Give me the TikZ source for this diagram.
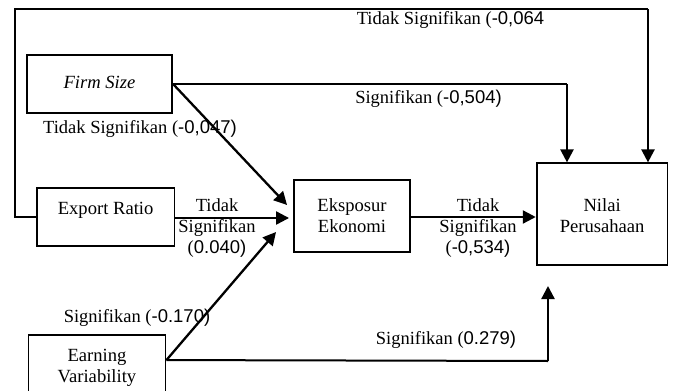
\documentclass[tikz,border=0pt]{standalone}
\usepackage{fontspec}
\setmainfont{Liberation Serif}
\newfontfamily\numf{Liberation Sans}
\usetikzlibrary{arrows.meta,calc}
\begin{document}
\begin{tikzpicture}[x=1pt,y=-1pt,
  box/.style={draw, line width=1.9pt, rectangle, inner sep=0pt, align=center, font=\fontsize{18.6}{21}\selectfont},
  lbl/.style={inner sep=0pt, align=center, font=\fontsize{18.5}{21}\selectfont},
  conn/.style={line width=2pt},
  arr/.style={line width=2.3pt, -{Triangle[length=13pt,width=13pt]}},
]
\useasboundingbox (0,0) rectangle (673,391);
\clip (0,0) rectangle (673,391);
% boxes
\node[box, minimum width=145.6pt, minimum height=58.3pt] (FS) at (99.5,84.2) {\raisebox{2pt}[\height][\depth]{\textit{Firm Size}}};
\node[box, minimum width=137.8pt, minimum height=58.5pt] (EX) at (105.6,216.8) {\raisebox{6pt}[\height][\depth]{Export Ratio}};
\node[box, minimum width=116pt, minimum height=72.5pt] (EK) at (352,215.8) {Eksposur\\Ekonomi};
\node[box, minimum width=130.8pt, minimum height=101.7pt] (NP) at (602.1,214.2) {\raisebox{-4pt}[\height][\depth]{\begin{tabular}{@{}c@{}}Nilai\\Perusahaan\end{tabular}}};
\node[box, minimum width=137pt, minimum height=66pt] (EV) at (97,368) {Earning\\Variability};
% helper coordinates
\coordinate (tl) at (14.5,9.3);
\coordinate (tr) at (648,9.3);
\coordinate (fsr) at (567,84.2);
\coordinate (ev) at ($(EV.north east)+(0,26)$);
\coordinate (evr) at (548,361);
% connectors
\draw[conn] (EX.west) -| (tl) -- (tr);
\draw[arr] (tr) -- (tr |- NP.north);
\draw[conn] (FS.east) -- (fsr);
\draw[arr] (fsr) -- (fsr |- NP.north);
\draw[arr] (FS.east) -- ($(EK.west)+(-6,-10.8)$);
\draw[arr] (EX.east |- 0,218) -- ($(EK.west |- 0,218)+(-4,0)$);
\draw[arr] (EK.east |- 0,217) -- (NP.west |- 0,217);
\draw[arr] (ev) -- ($(EK.west)+(-17,16.2)$);
\draw[conn] (ev) -- (evr);
\draw[arr, shorten >=20pt] (evr) -- (evr |- NP.south);
% labels
\node[lbl] (L064) at (450.5,20) {Tidak Signifikan ({\numf-0,064}};
\node[lbl] (L504) at (428.5,99) {Signifikan ({\numf-0,504)}};
\node[lbl] (L047) at (140,129) {Tidak Signifikan ({\numf-0,047)}};
\node[lbl] (L040) at (217,228) {Tidak\\Signifikan\\({\numf0.040)}};
\node[lbl] (L534) at (478,228) {Tidak\\Signifikan\\({\numf-0,534)}};
\node[lbl] (L170) at (137,318) {Signifikan ({\numf-0.170)}};
\node[lbl] (L279) at (446,340) {Signifikan ({\numf0.279)}};
\end{tikzpicture}
\end{document}
